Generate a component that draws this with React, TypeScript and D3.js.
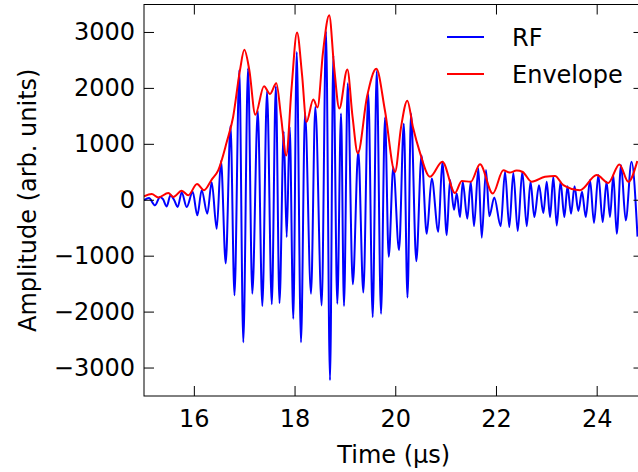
import React from "react";
import * as d3 from "d3";

const rfTime = [15.000,15.099,15.218,15.318,15.377,15.451,15.526,15.596,15.669,15.749,15.848,15.967,16.059,16.146,16.257,16.345,16.444,16.529,16.623,16.718,16.797,16.893,16.972,17.066,17.151,17.260,17.350,17.443,17.538,17.618,17.691,17.775,17.834,17.894,17.965,18.033,18.118,18.198,18.317,18.402,18.529,18.615,18.694,18.760,18.839,18.913,18.972,19.046,19.147,19.256,19.356,19.455,19.542,19.622,19.707,19.786,19.860,19.951,20.065,20.160,20.233,20.303,20.408,20.511,20.615,20.714,20.845,20.925,21.012,21.077,21.157,21.211,21.276,21.330,21.421,21.489,21.554,21.640,21.707,21.792,21.858,21.957,22.084,22.170,22.255,22.335,22.422,22.513,22.601,22.676,22.752,22.845,22.931,22.998,23.064,23.129,23.197,23.272,23.348,23.411,23.481,23.550,23.626,23.699,23.773,23.858,23.937,24.023,24.110,24.186,24.255,24.321,24.388,24.474,24.567,24.682,24.801];
const rfAmp = [0,40,-90,60,20,-110,90,10,-120,140,-120,150,-270,180,-240,320,-510,700,-1130,1330,-1700,2330,-2540,2360,-1670,1600,-1890,1950,-1860,2040,-1840,1230,-660,1310,-2120,2650,-2540,1560,-1670,1670,-1880,3020,-3220,2590,-1850,1550,-1890,2090,-1500,880,-1650,1900,-2090,2310,-2030,1480,-1010,590,-890,1370,-1740,1550,-1090,800,-600,390,-565,690,-625,360,-170,120,-300,330,-330,330,-465,570,-670,540,-285,50,-465,510,-480,490,-550,510,-465,330,-300,270,-230,330,-300,420,-450,330,-300,250,-240,250,-190,150,-300,360,-405,450,-390,330,-300,450,-600,625,-360,690,-650];

const envTime = [15.000,15.153,15.284,15.483,15.582,15.749,15.880,16.053,16.192,16.345,16.476,16.643,16.768,16.907,16.992,17.091,17.211,17.383,17.502,17.628,17.721,17.824,17.930,18.039,18.138,18.227,18.362,18.446,18.555,18.678,18.774,18.879,19.038,19.141,19.246,19.429,19.614,19.786,19.985,20.104,20.229,20.343,20.476,20.680,20.925,21.177,21.310,21.489,21.673,21.926,22.136,22.260,22.400,22.520,22.700,22.964,23.163,23.328,23.659,23.991,24.221,24.440,24.619,24.797];
const envAmp = [70,110,50,130,60,170,90,290,180,370,540,1040,1480,2330,2690,2330,1530,2040,1900,2090,1500,800,2000,3000,2250,1400,1800,1660,2650,3310,2400,1640,2340,1500,840,1850,2350,1600,505,1300,1780,1300,865,420,690,130,345,330,645,120,535,495,530,505,330,420,435,270,180,450,310,640,330,700];

const xTicks = [16, 18, 20, 22, 24];
const yTicks = [-3000, -2000, -1000, 0, 1000, 2000, 3000];
const legendLabels = ["RF", "Envelope"];

const W = 638, H = 472;
const L = 144, R = 643.5, T = 4.5, B = 396;

export default function App() {
  const x = d3.scaleLinear().domain([15, 24.92]).range([L, R]);
  const y = d3.scaleLinear().domain([-3500, 3500]).range([B, T]);
  const rf = rfTime.map((t, i) => [t, rfAmp[i]] as [number, number]);
  const env = envTime.map((t, i) => [t, envAmp[i]] as [number, number]);
  const line = d3.line<[number, number]>().x(d => x(d[0])).y(d => y(d[1])).curve(d3.curveMonotoneX);
  const fmt = (v: number) => (v < 0 ? "\u2212" + Math.abs(v) : String(v));
  const font = "'DejaVu Sans', sans-serif";
  const tl = 10;
  const colors = ["#0000ff", "#ff0000"];
  return (
    <svg width={W} height={H} style={{ position: "absolute", left: 0, top: 0, background: "#fff" }} fontFamily={font}>
      <defs>
        <clipPath id="plotclip">
          <rect x={L} y={T} width={R - L} height={B - T} />
        </clipPath>
      </defs>
      <rect x={0} y={0} width={W} height={H} fill="#fff" />
      <g clipPath="url(#plotclip)">
        <path d={line(rf) || ""} fill="none" stroke={colors[0]} strokeWidth={2} strokeLinejoin="round" />
        <path d={line(env) || ""} fill="none" stroke={colors[1]} strokeWidth={2} strokeLinejoin="round" />
      </g>
      <rect x={L} y={T} width={R - L} height={B - T} fill="none" stroke="#000" strokeWidth={1} />
      {xTicks.map(t => (
        <g key={"x" + t}>
          <line x1={x(t)} x2={x(t)} y1={B} y2={B - tl} stroke="#000" strokeWidth={1} />
          <line x1={x(t)} x2={x(t)} y1={T} y2={T + tl} stroke="#000" strokeWidth={1} />
          <text x={x(t)} y={427} fontSize={24} textAnchor="middle">{t}</text>
        </g>
      ))}
      {yTicks.map(v => (
        <g key={"y" + v}>
          <line x1={L} x2={L + tl} y1={y(v)} y2={y(v)} stroke="#000" strokeWidth={1} />
          <line x1={R} x2={R - tl} y1={y(v)} y2={y(v)} stroke="#000" strokeWidth={1} />
          <text x={135} y={y(v) + 8} fontSize={24} textAnchor="end">{fmt(v)}</text>
        </g>
      ))}
      <text x={(L + R) / 2} y={463} fontSize={24} textAnchor="middle">Time (μs)</text>
      <text transform={`translate(36,${(T + B) / 2}) rotate(-90)`} fontSize={24} textAnchor="middle">Amplitude (arb. units)</text>
      {legendLabels.map((lab, i) => (
        <g key={lab}>
          <line x1={447} x2={484} y1={37 + i * 37} y2={37 + i * 37} stroke={colors[i]} strokeWidth={2} />
          <text x={512} y={45.5 + i * 37} fontSize={24}>{lab}</text>
        </g>
      ))}
    </svg>
  );
}
